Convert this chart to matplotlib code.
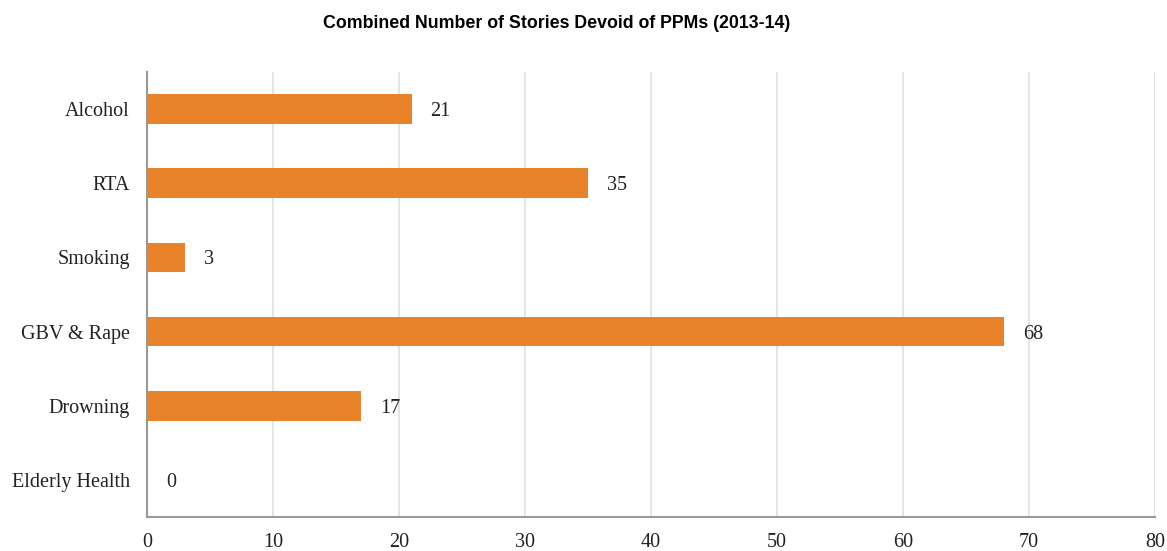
import matplotlib
matplotlib.use("Agg")
import matplotlib.pyplot as plt

categories = ["Alcohol", "RTA", "Smoking", "GBV & Rape", "Drowning", "Elderly Health"]
values = [21, 35, 3, 68, 17, 0]
xticks = [0, 10, 20, 30, 40, 50, 60, 70, 80]

fig = plt.figure(figsize=(11.67, 5.51), dpi=100)
ax = fig.add_axes([147/1167, 1-517/551, (1155-147)/1167, (517-72)/551])

ypos = list(range(len(categories)))
ax.barh(ypos, values, height=0.4, color="#E8832A", zorder=3)
ax.set_ylim(len(categories) - 0.5, -0.5)
ax.set_xlim(0, 80)
ax.set_yticks(ypos)
ax.set_yticklabels(categories, fontfamily="Liberation Serif", fontsize=14.5, color="#222222")
ax.set_xticks(xticks)
ax.set_xticklabels([str(t) for t in xticks], fontfamily="Liberation Serif", fontsize=14.5, color="#222222")
ax.tick_params(axis="both", length=0)
ax.tick_params(axis="y", pad=12.5)
ax.tick_params(axis="x", pad=11.5)
ax.grid(axis="x", color="#e0e0e0", linewidth=1.2, zorder=0)
for s in ["top", "right"]:
    ax.spines[s].set_visible(False)
for s in ["left", "bottom"]:
    ax.spines[s].set_color("#999999")
    ax.spines[s].set_linewidth(1.5)
    ax.spines[s].set_zorder(4)

for y, v in zip(ypos, values):
    ax.annotate(str(v), (v, y), xytext=(19, 0), textcoords="offset pixels",
                va="center_baseline", ha="left", fontfamily="Liberation Serif", fontsize=14.5, color="#222222")

fig.text(557/1167, 1-23/551, "Combined Number of Stories Devoid of PPMs (2013-14)",
         ha="center", va="center", fontfamily="Liberation Sans", fontweight="bold", fontsize=12.8)

fig.savefig("out.png", dpi=100)
